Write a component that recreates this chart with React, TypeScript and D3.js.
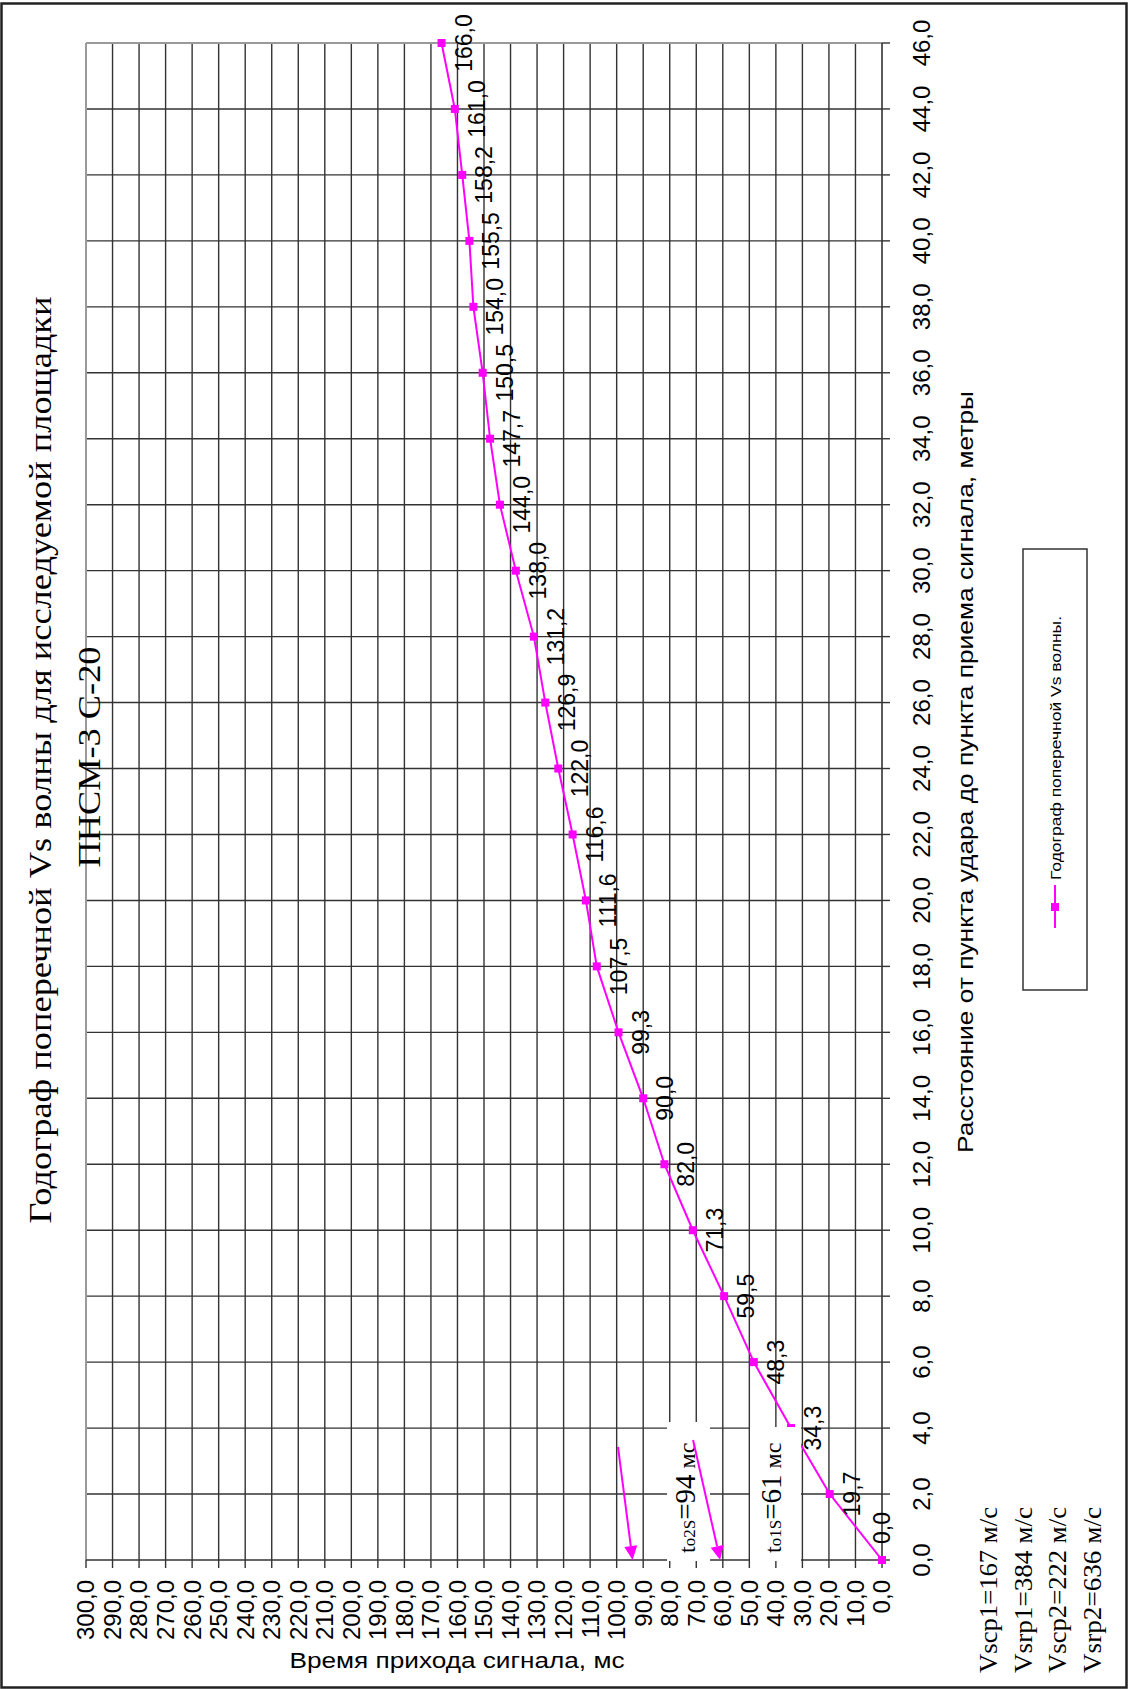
import React from "react";
import * as d3 from "d3";

const distances = [0, 2, 4, 6, 8, 10, 12, 14, 16, 18, 20, 22, 24, 26, 28, 30, 32, 34, 36, 38, 40, 42, 44, 46];
const times = [0.0, 19.7, 34.3, 48.3, 59.5, 71.3, 82.0, 90.0, 99.3, 107.5, 111.6, 116.6, 122.0, 126.9, 131.2, 138.0, 144.0, 147.7, 150.5, 154.0, 155.5, 158.2, 161.0, 166.0];
const timeTicks = d3.range(0, 301, 10);
const distTicks = d3.range(0, 47, 2);
// intercept annotations: [intercept time, arrow start time, arrow start distance]
const interceptTimes = [94, 61];
const arrowStartTimes = [99.5, 71.2];
const arrowStartDists = [3.43, 3.64];
const interceptLabels = [
  { a: "t", b: "o2S", c: "=94", d: " мс" },
  { a: "t", b: "o1S", c: "=61", d: " мс" },
];
const velocityLines = ["Vscp1=167 м/с", "Vsrp1=384 м/с", "Vscp2=222 м/с", "Vsrp2=636 м/с"];

const W = 1128;
const H = 1689;
const fmt = (v: number) => d3.format(".1f")(v).replace(".", ",");
const SANS = "'Liberation Sans', Arial, sans-serif";
const SERIF = "'Liberation Serif', 'Times New Roman', serif";
const MAG = "#FF00FF";

export default function App() {
  const x = d3.scaleLinear().domain([0, 300]).range([882, 86]);
  const y = d3.scaleLinear().domain([0, 46]).range([1560, 43]);
  const line = d3
    .line<number>()
    .x((_, i) => x(times[i]))
    .y((d) => y(d));

  const [x0, x1] = [x(300), x(0)];
  const [yTop, yBot] = [y(46), y(0)];

  const arrows = interceptTimes.map((t, i) => {
    const sx = x(arrowStartTimes[i]);
    const sy = y(arrowStartDists[i]);
    const ex = x(t);
    const ey = y(0);
    const dx = ex - sx;
    const dy = ey - sy;
    const len = Math.hypot(dx, dy);
    const ux = dx / len;
    const uy = dy / len;
    const hl = 14;
    const hw = 6.5;
    const bx = ex - ux * hl;
    const by = ey - uy * hl;
    const head = `M${ex},${ey} L${bx - uy * hw},${by + ux * hw} L${bx + uy * hw},${by - ux * hw} Z`;
    return { sx, sy, bx, by, head };
  });

  return (
    <div style={{ position: "absolute", left: 0, top: 0 }}>
      <svg width={W} height={H} style={{ display: "block" }}>
        <rect x={0} y={0} width={W} height={H} fill="#fff" />
        {/* grid */}
        {timeTicks.filter((t) => t !== 300 && t !== 0).map((t) => (
          <line key={"v" + t} x1={x(t)} x2={x(t)} y1={yTop} y2={yBot} stroke="#333" strokeWidth={1.4} />
        ))}
        {distTicks.filter((d) => d !== 0 && d !== 46).map((d) => (
          <line key={"h" + d} x1={x0} x2={x1} y1={y(d)} y2={y(d)} stroke="#333" strokeWidth={1.4} />
        ))}
        {/* plot border top/left */}
        <line x1={x0} x2={x1} y1={yTop} y2={yTop} stroke="#9a9a9a" strokeWidth={2} />
        <line x1={x0} x2={x0} y1={yTop} y2={yBot} stroke="#9a9a9a" strokeWidth={2} />
        {/* axes */}
        <line x1={x1} x2={x1} y1={yTop} y2={yBot} stroke="#333" strokeWidth={1.6} />
        <line x1={x0} x2={x1} y1={yBot} y2={yBot} stroke="#333" strokeWidth={1.6} />
        {distTicks.map((d) => (
          <line key={"rt" + d} x1={x1} x2={x1 + 8} y1={y(d)} y2={y(d)} stroke="#333" strokeWidth={1.4} />
        ))}
        {timeTicks.map((t) => (
          <line key={"bt" + t} x1={x(t)} x2={x(t)} y1={yBot} y2={yBot + 8} stroke="#333" strokeWidth={1.4} />
        ))}
        {/* right tick labels */}
        {distTicks.map((d) => (
          <text key={"rl" + d} transform={`translate(930,${y(d)}) rotate(-90)`} textAnchor="middle" fontFamily={SANS} fontSize={24} fill="#000">
            {fmt(d)}
          </text>
        ))}
        {/* bottom tick labels */}
        {timeTicks.map((t) => (
          <text key={"bl" + t} transform={`translate(${x(t)},${yBot + 20}) rotate(-90)`} textAnchor="end" dy="0.35em" fontFamily={SANS} fontSize={24} fill="#000">
            {fmt(t)}
          </text>
        ))}
        {/* series */}
        <path d={line(distances) || ""} fill="none" stroke={MAG} strokeWidth={2} />
        {distances.map((d, i) => (
          <rect key={"m" + i} x={x(times[i]) - 4} y={y(d) - 4} width={8} height={8} fill={MAG} />
        ))}
        {distances.map((d, i) => {
          const cx = i === 0 ? x(times[i]) : x(times[i]) + 22;
          const cy = i === 0 ? y(d) - 32 : y(d);
          return (
            <text key={"dl" + i} transform={`translate(${cx},${cy}) rotate(-90)`} textAnchor="middle" dy="0.35em" fontFamily={SANS} fontSize={23} fill="#000">
              {fmt(times[i])}
            </text>
          );
        })}
        {/* white text boxes */}
        <rect x={667} y={1422} width={43} height={139} fill="#fff" />
        <rect x={750} y={1427} width={51} height={134} fill="#fff" />
        {interceptLabels.map((l, i) => (
          <text key={"il" + i} transform={`translate(${i === 0 ? 695 : 781},1553) rotate(-90)`} fontFamily={SERIF} fill="#000">
            <tspan fontSize={24}>{l.a}</tspan>
            <tspan fontSize={17}>{l.b}</tspan>
            <tspan fontSize={29}>{l.c}</tspan>
            <tspan fontSize={24}>{l.d}</tspan>
          </text>
        ))}
        {arrows.map((a, i) => (
          <g key={"ar" + i}>
            <line x1={a.sx} y1={a.sy} x2={a.bx} y2={a.by} stroke={MAG} strokeWidth={2} />
            <path d={a.head} fill={MAG} />
          </g>
        ))}
        {/* legend */}
        <rect x={1023} y={549} width={64} height={441} fill="#fff" stroke="#333" strokeWidth={1.5} />
        <line x1={1055} x2={1055} y1={885} y2={928} stroke={MAG} strokeWidth={2} />
        <rect x={1051} y={903} width={8} height={8} fill={MAG} />
        <text transform="translate(1061,880) rotate(-90)" fontFamily={SANS} fontSize={14} textLength={264} lengthAdjust="spacingAndGlyphs" fill="#000">
          Годограф поперечной Vs волны.
        </text>
        {/* axis titles */}
        <text transform="translate(973,772) rotate(-90)" textAnchor="middle" fontFamily={SANS} fontSize={22} textLength={762} lengthAdjust="spacingAndGlyphs" fill="#000">
          Расстояние от пункта удара до пункта приема сигнала, метры
        </text>
        <text x={457} y={1668} textAnchor="middle" fontFamily={SANS} fontSize={22} textLength={335} lengthAdjust="spacingAndGlyphs" fill="#000">
          Время прихода сигнала, мс
        </text>
        {/* chart title */}
        <text transform="translate(51,760) rotate(-90)" textAnchor="middle" fontFamily={SERIF} fontSize={32} textLength={927} lengthAdjust="spacingAndGlyphs" fill="#000">
          Годограф поперечной Vs волны для исследуемой площадки
        </text>
        <text transform="translate(100,757) rotate(-90)" textAnchor="middle" fontFamily={SERIF} fontSize={31} textLength={221} lengthAdjust="spacingAndGlyphs" fill="#000">
          ПНСМ-3 С-20
        </text>
        {/* velocities */}
        {velocityLines.map((v, i) => (
          <text key={"vl" + i} transform={`translate(${997 + i * 34.5},1673) rotate(-90)`} fontFamily={SERIF} fontSize={25} textLength={166} lengthAdjust="spacingAndGlyphs" fill="#000">
            {v}
          </text>
        ))}
        {/* outer frame */}
        <rect x={1.5} y={3.5} width={W - 3} height={H - 5} fill="none" stroke="#222" strokeWidth={2.5} />
      </svg>
    </div>
  );
}
